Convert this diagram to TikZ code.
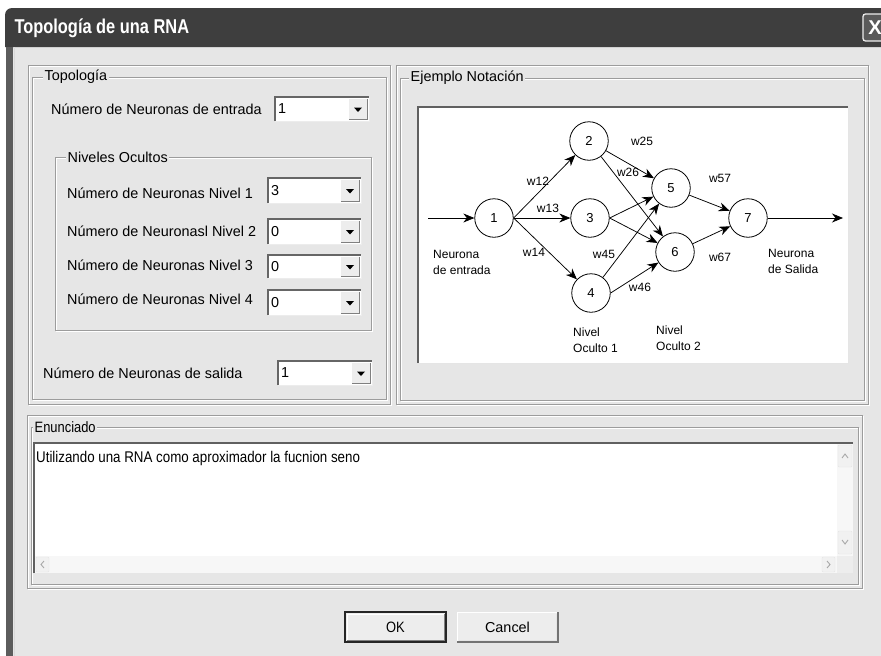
\documentclass[tikz,border=0pt]{standalone}
\usepackage{fontspec}
\setmainfont{Liberation Sans}
\newfontfamily\narrowfont[FakeStretch=0.86]{Liberation Sans}
\newfontfamily\titlefont[FakeStretch=0.82]{Liberation Sans}
\usetikzlibrary{arrows.meta}
\definecolor{dlgbg}{HTML}{E6E6E6}
\definecolor{titlebg}{HTML}{3E3E3E}
\definecolor{etchdark}{HTML}{9C9C9C}
\definecolor{btnface}{HTML}{EDEDED}
\definecolor{winedge}{HTML}{5C5C5C}
\definecolor{closebg}{HTML}{5A5A5A}
\definecolor{scrollbtn}{HTML}{F1F1F1}
\definecolor{chev}{HTML}{A8A8A8}
\newcommand{\etchbox}[4]{%
  \draw[white, line width=1pt] ({#1+1},{#2+1}) rectangle ({#3+1},{#4+1});
  \draw[etchdark, line width=1pt] (#1,#2) rectangle (#3,#4);}
\newcommand{\combobox}[6]{%
  \fill[white] (#1,#2) rectangle (#3,#4);
  \draw[gray!80!black, line width=1.2pt] (#1,#4) -- (#1,#2) -- (#3,#2);
  \draw[white!85!gray, line width=1pt] (#3,#2) -- (#3,#4) -- (#1,#4);
  \fill[btnface] ({#3-20},{#2+2}) rectangle ({#3-2},{#4-2});
  \draw[gray, line width=0.8pt] ({#3-20},{#4-2}) -- ({#3-2},{#4-2}) -- ({#3-2},{#2+2});
  \fill[black] ({#3-15},{(#2+#4)/2-1.5}) -- ++(8,0) -- ++(-4,4.5) -- cycle;
  \node[val] (#6) at ({#1+3},{(#2+#4)/2}) {#5};}
\begin{document}
\begin{tikzpicture}[x=1pt,y=-1pt,
  lbl/.style={font=\fontsize{14.4}{16}\selectfont, inner sep=0pt, anchor=west},
  val/.style={font=\fontsize{14.4}{16}\selectfont, inner sep=0pt, anchor=west},
  grp/.style={font=\fontsize{14.4}{16}\selectfont, fill=dlgbg, inner xsep=1.5pt, inner ysep=1pt, anchor=west},
  neuron/.style={circle, draw, line width=0.8pt, minimum size=38.5pt, inner sep=0pt, font=\fontsize{13}{14}\selectfont},
  syn/.style={line width=0.75pt, -{Stealth[length=11pt,width=9pt,inset=3.5pt]}},
  wl/.style={font=\fontsize{12}{13}\selectfont, inner sep=0pt},
  dtext/.style={font=\fontsize{12}{16}\selectfont, align=left, inner sep=0pt, anchor=north west},
  btn/.style={font=\fontsize{14.4}{16}\selectfont, inner sep=0pt},
]
\useasboundingbox (0,0) rectangle (881,656);
\fill[white] (0,0) rectangle (881,656);
\fill[dlgbg] (6,30) rectangle (881,656);
% title bar
\fill[titlebg] (5,47) [rounded corners=7pt] -- (5,8) [sharp corners] -- (881,8) -- (881,47) -- cycle;
\fill[winedge] (6,47) rectangle (13,656);
\draw[white!70!gray, line width=1pt] (14,47) -- (14,656);
\node[anchor=west, text=white, font=\titlefont\bfseries\fontsize{20}{22}\selectfont] (title) at (11,28) {Topología de una RNA};
\draw[white!85!gray, fill=closebg, rounded corners=2.5pt, line width=1.3pt] (863,14) rectangle (892,41);
\node[text=white, font=\bfseries\fontsize{20}{22}\selectfont, inner sep=0pt] (closex) at (875,28) {X};

% outer panels
\etchbox{28}{65}{390}{404}
\etchbox{396}{65}{868}{404}
\etchbox{27}{415}{862}{588}

% Topologia group
\etchbox{32}{77}{386}{399}
\node[grp] (gtop) at (43,77) {Topología};
\node[lbl] (tin) at (51,109) {Número de Neuronas de entrada};
\combobox{275}{97}{369}{121}{1}{cin}

\etchbox{55}{157}{371}{330}
\node[grp] (gniv) at (66,157) {Niveles Ocultos};
\node[lbl] (t1) at (67,193) {Número de Neuronas Nivel 1};
\combobox{268}{178}{361}{203}{3}{c1}
\node[lbl] (t2) at (67,231) {Número de Neuronasl Nivel 2};
\combobox{268}{219}{361}{244}{0}{c2}
\node[lbl] (t3) at (67,265) {Número de Neuronas Nivel 3};
\combobox{268}{255}{361}{278}{0}{c3}
\node[lbl] (t4) at (67,299) {Número de Neuronas Nivel 4};
\combobox{268}{290}{361}{315}{0}{c4}

\node[lbl] (tout) at (43,373) {Número de Neuronas de salida};
\combobox{278}{361}{372}{385}{1}{cout}

% Ejemplo group
\etchbox{400}{78}{864}{400}
\node[grp] (gej) at (409,78) {Ejemplo Notación};
\fill[white] (418,107) rectangle (848,363);
\draw[gray!75!black, line width=1.6pt] (418,363) -- (418,107) -- (848,107);
\draw[white!80!gray, line width=1pt] (848,107) -- (848,363) -- (418,363);

\node[neuron] (n1) at (494,218) {1};
\node[neuron] (n2) at (589,141) {2};
\node[neuron] (n3) at (590,218) {3};
\node[neuron] (n4) at (591,293) {4};
\node[neuron] (n5) at (671,188) {5};
\node[neuron] (n6) at (675,252) {6};
\node[neuron] (n7) at (748,218) {7};
\coordinate (in) at (428,218);
\coordinate (out) at (843,218);

\draw[syn] (in) -- (n1);
\draw[syn] (n1.east) -- (n2);
\draw[syn] (n1.east) -- (n3);
\draw[syn] (n1.east) -- (n4);
\draw[syn] (n2) -- (n5);
\draw[syn] (n2) -- (n6);
\draw[syn] (n3.east) -- (n5);
\draw[syn] (n3.east) -- (n6);
\draw[syn] (n4) -- (n5);
\draw[syn] (n4.east) -- (n6);
\draw[syn] (n5) -- (n7);
\draw[syn] (n6) -- (n7);
\draw[syn] (n7) -- (out);

\node[wl] (w12) at (538,181) {w12};
\node[wl] (w13) at (548,208) {w13};
\node[wl] (w14) at (534,252) {w14};
\node[wl] (w25) at (642,141) {w25};
\node[wl] (w26) at (628,172) {w26};
\node[wl] (w45) at (604,254) {w45};
\node[wl] (w46) at (640,287) {w46};
\node[wl] (w57) at (720,178) {w57};
\node[wl] (w67) at (720,257) {w67};

\node[dtext] (lin) at (433,250) {Neurona\\de entrada};
\node[dtext] (lout) at (768,249) {Neurona\\de Salida};
\node[dtext] (lh1) at (573,328) {Nivel\\Oculto 1};
\node[dtext] (lh2) at (656,326) {Nivel\\Oculto 2};

% Enunciado group
\etchbox{31}{427}{858}{584}
\node[grp, font=\narrowfont\fontsize{15}{16}\selectfont] (gen) at (33,427) {Enunciado};
\fill[white] (34,443) rectangle (853,573);
\draw[gray!75!black, line width=1.4pt] (34,573) -- (34,443) -- (853,443);
\node[anchor=west, inner sep=0pt, font=\narrowfont\fontsize{15.5}{17}\selectfont] (memo) at (36,458) {Utilizando una RNA como aproximador la fucnion seno};
% scrollbars
\fill[scrollbtn!60!white] (837,444) rectangle (853,556);
\fill[scrollbtn!60!white] (35,556) rectangle (837,573);
\fill[dlgbg!70!white] (837,556) rectangle (853,573);
\draw[white!80!gray, fill=scrollbtn, rounded corners=1pt] (838,445) rectangle (852,467);
\draw[white!80!gray, fill=scrollbtn, rounded corners=1pt] (838,531) rectangle (852,554);
\draw[white!80!gray, fill=scrollbtn, rounded corners=1pt] (36,557) rectangle (49,572);
\draw[white!80!gray, fill=scrollbtn, rounded corners=1pt] (822,557) rectangle (835,572);
\draw[chev, line width=0.9pt] (842,458) -- (845,454) -- (848,458);
\draw[chev, line width=0.9pt] (842,540) -- (845,544) -- (848,540);
\draw[chev, line width=0.9pt] (44,561) -- (41,564.5) -- (44,568);
\draw[chev, line width=0.9pt] (827,561) -- (830,564.5) -- (827,568);

% buttons
\fill[btnface] (345,612) rectangle (446,642);
\draw[white, line width=1pt] (347,640) -- (347,614) -- (444,614);
\draw[gray, line width=1pt] (347,640) -- (444,640) -- (444,614);
\draw[black!85, line width=1.2pt] (345,612) rectangle (446,642);
\node[btn, font=\narrowfont\fontsize{15}{16}\selectfont] (ok) at (395.5,627) {OK};

\fill[btnface] (457,612) rectangle (558,642);
\draw[white, line width=1pt] (457,642) -- (457,612) -- (558,612);
\draw[gray!90!black, line width=1.2pt] (457,642) -- (558,642) -- (558,612);
\draw[white!80!gray, line width=0.8pt] (459,640) -- (556,640) -- (556,614);
\node[btn] (cancel) at (507.5,627) {Cancel};
\end{tikzpicture}
\end{document}
